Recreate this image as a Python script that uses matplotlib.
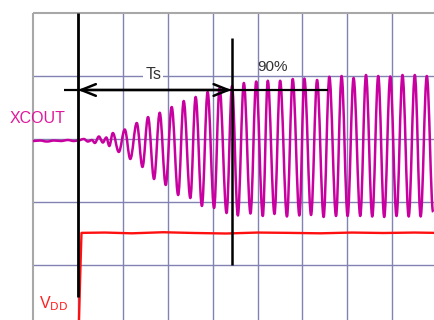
import numpy as np
import matplotlib.pyplot as plt
from matplotlib.path import Path
from matplotlib.patches import PathPatch

# scope screen, time and volts in divisions (t=0 at left border, v=0 at centre line)
grid_t = [1, 2, 3, 4, 5, 6, 7, 8, 9]
grid_v = [1, 0, -1, -2]

# XCOUT trace, read peak by peak off the screen
xcout_t = [0.0, 0.156, 0.311, 0.467, 0.622, 0.778, 0.911, 1.0,
           1.133, 1.222, 1.311, 1.378, 1.467, 1.556, 1.633, 1.7, 1.778, 1.911,
           2.044, 2.167, 2.311, 2.438, 2.562, 2.696, 2.822, 2.956, 3.089, 3.233,
           3.356, 3.504, 3.622, 3.762, 3.889, 4.033, 4.156, 4.311, 4.433, 4.562,
           4.696, 4.844, 4.971, 5.118, 5.229, 5.378, 5.504, 5.656, 5.784, 5.933,
           6.044, 6.193, 6.327, 6.473, 6.6, 6.749, 6.873, 7.007, 7.14, 7.289,
           7.416, 7.556, 7.689, 7.822, 7.956, 8.096, 8.229, 8.367, 8.504, 8.633,
           8.771, 8.911]
xcout_v = [-0.032, -0.024, -0.04, -0.024, -0.032, -0.016, -0.032, -0.024,
           0.0, -0.04, -0.016, -0.063, 0.04, -0.056, 0.024, -0.111, 0.095, -0.206,
           0.151, -0.317, 0.254, -0.444, 0.349, -0.635, 0.417, -0.73, 0.508, -0.889,
           0.603, -0.937, 0.667, -1.063, 0.746, -1.095, 0.81, -1.175, 0.841, -1.214,
           0.889, -1.183, 0.913, -1.222, 0.925, -1.19, 0.925, -1.23, 0.952, -1.214,
           0.96, -1.206, 0.937, -1.238, 0.989, -1.222, 1.0, -1.222, 0.968, -1.222,
           1.016, -1.23, 1.0, -1.238, 0.992, -1.222, 1.016, -1.23, 1.016, -1.23,
           1.0, -1.159]

# VDD supply trace
vdd_t = [1.02, 1.05, 1.08, 1.6, 2.2, 2.9, 3.6, 4.3, 5.0, 5.7, 6.4, 7.1, 7.8, 8.5, 8.95]
vdd_v = [-3.0, -2.2, -1.49, -1.485, -1.497, -1.48, -1.492, -1.5, -1.485,
         -1.49, -1.497, -1.485, -1.492, -1.485, -1.49]

t_start = 1.0
t_90 = 4.422
v_arrow = 0.778

fig = plt.figure(figsize=(4.34, 3.2), dpi=100)
ax = fig.add_axes([0, 0, 1, 1])
ax.set_xlim(-33 / 44.9, 401 / 44.9)
ax.set_ylim(-181 / 63, 139 / 63)
ax.axis('off')

ax.vlines(grid_t, -3, 2, color='#8383B3', lw=1.0, zorder=1)
ax.hlines(grid_v, 0, 10, color='#8383B3', lw=1.0, zorder=1)
ax.vlines(0, -3, 2, color='#A8A8A8', lw=1.5, zorder=1)
ax.hlines(2, 0, 10, color='#A8A8A8', lw=1.5, zorder=1)

# smooth the trace between the read extrema with flat-tangent bezier segments
verts = [(xcout_t[0], xcout_v[0])]
codes = [Path.MOVETO]
for i in range(len(xcout_t) - 1):
    dt = xcout_t[i + 1] - xcout_t[i]
    verts += [(xcout_t[i] + 0.36 * dt, xcout_v[i]),
              (xcout_t[i + 1] - 0.36 * dt, xcout_v[i + 1]),
              (xcout_t[i + 1], xcout_v[i + 1])]
    codes += [Path.CURVE4] * 3
ax.add_patch(PathPatch(Path(verts, codes), fill=False, edgecolor='#C800A0',
                       lw=1.8, joinstyle='round', zorder=3))

ax.plot(vdd_t, vdd_v, color='#FF1010', lw=1.7, zorder=4)

# markers
ax.vlines(t_start, -2.508, 2.0, color='black', lw=2.0, zorder=5)
ax.vlines(t_90, -2.0, 1.603, color='black', lw=1.8, zorder=5)
ax.hlines(v_arrow, 0.689, 6.578, color='black', lw=1.6, zorder=5)
ax.annotate('', xy=(t_start, v_arrow), xytext=(t_90, v_arrow),
            arrowprops=dict(arrowstyle='<->,head_length=1.05,head_width=0.42',
                            color='black', lw=1.8, shrinkA=0, shrinkB=0),
            zorder=6)

ax.text(2.68, 1.02, 'Ts', fontsize=11.5, color='#333333', ha='center', va='center',
        family='Liberation Sans', zorder=6,
        bbox=dict(facecolor='white', edgecolor='none', pad=1.5))
ax.text(5.333, 1.143, '90%', fontsize=11, color='#333333', ha='center', va='center',
        family='Liberation Sans', zorder=6)
ax.text(-0.515, 0.325, 'XCOUT', fontsize=11.5, color='#E0189C', ha='left', va='center',
        family='Liberation Sans', zorder=6)
plt.rcParams['mathtext.default'] = 'regular'
ax.text(0.13, -2.62, r'V$_{\mathrm{DD}}$', fontsize=11.5, color='#FF2020', ha='left',
        va='center', family='Liberation Sans', zorder=6)

fig.savefig('out.png', dpi=100)
